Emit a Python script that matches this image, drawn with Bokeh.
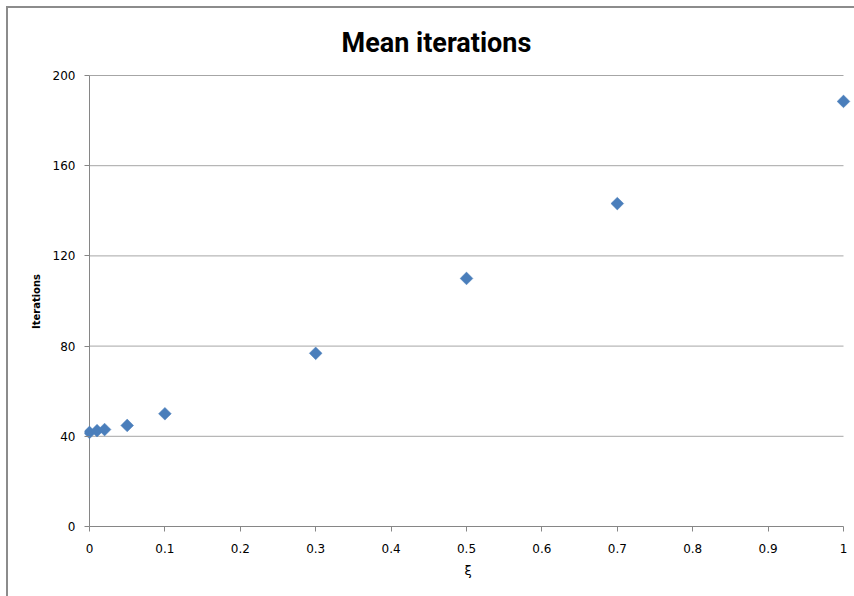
import math
from bokeh.plotting import figure
from bokeh.layouts import column
from bokeh.models import Range1d, FixedTicker, ColumnDataSource
from bokeh.embed import file_html
from bokeh.resources import INLINE

# ---- data ----
xi = [0.0, 0.01, 0.02, 0.05, 0.1, 0.3, 0.5, 0.7, 1.0]
iterations = [41.7, 42.5, 43.0, 44.8, 50.0, 76.8, 110.0, 143.2, 188.5]
x_ticks = [0, 0.1, 0.2, 0.3, 0.4, 0.5, 0.6, 0.7, 0.8, 0.9, 1.0]
x_tick_labels = ["0", "0.1", "0.2", "0.3", "0.4", "0.5", "0.6", "0.7", "0.8", "0.9", "1"]
y_ticks = [0, 40, 80, 120, 160, 200]
y_tick_labels = ["0", "40", "80", "120", "160", "200"]
title_text = "Mean iterations"
x_label = "ξ"
y_label = "Iterations"

# ---- geometry (page pixels) ----
W, H = 854, 596
OFF = 8                          # figure origin inside the chart border
FW, FH = W - OFF, H - OFF
ax_left, ax_right = 89, 843      # pixel of x=0 and x=1
ax_bottom, ax_top = 526, 75      # pixel of y=0 and y=200
fr_left, fr_right = 84, 851
fr_top, fr_bottom = 74, 528

xs = (x_ticks[-1] - x_ticks[0]) / (ax_right - ax_left)
ys = (y_ticks[-1] - y_ticks[0]) / (ax_bottom - ax_top)
x0 = x_ticks[0] - (ax_left - fr_left) * xs
x1 = x_ticks[-1] + (fr_right - ax_right) * xs
y0 = y_ticks[0] - (fr_bottom - ax_bottom) * ys
y1 = y_ticks[-1] + (ax_top - fr_top) * ys

p = figure(width=FW, height=FH, output_backend="svg", toolbar_location=None,
           x_range=Range1d(x0, x1), y_range=Range1d(y0, y1),
           min_border_left=fr_left - OFF, min_border_right=W - fr_right,
           min_border_top=fr_top - OFF, min_border_bottom=H - fr_bottom,
           background_fill_color="white", border_fill_color="white")
p.outline_line_color = None
p.xgrid.visible = False
p.ygrid.visible = False

# title
title_w = 188
p.title.text = title_text
p.title.align = "left"
p.title.offset = 435 - title_w / 2 - fr_left
p.title.vertical_align = "top"
p.title.text_font = "Roboto"
p.title.text_font_style = "bold"
p.title.text_font_size = "27px"
p.title.text_color = "#000000"
p.title.standoff = 28

axis_col = "#868686"
grid_col = "#a6a6a6"
tick_font = "DejaVu Sans"

# x axis
xa = p.xaxis[0]
xa.ticker = FixedTicker(ticks=x_ticks)
xa.major_label_overrides = {t: l for t, l in zip(x_ticks, x_tick_labels)}
xa.axis_line_color = None
xa.major_tick_line_color = axis_col
xa.major_tick_in = fr_bottom - ax_bottom
xa.major_tick_out = 3
xa.minor_tick_line_color = None
xa.major_label_text_font = tick_font
xa.major_label_text_font_size = "12px"
xa.major_label_text_color = "#000000"
xa.major_label_standoff = 12
xa.axis_label = x_label
xa.axis_label_text_font = tick_font
xa.axis_label_text_font_style = "normal"
xa.axis_label_text_font_size = "13px"
xa.axis_label_text_color = "#000000"
xa.axis_label_standoff = 7

# y axis
ya = p.yaxis[0]
ya.ticker = FixedTicker(ticks=y_ticks)
ya.major_label_overrides = {t: l for t, l in zip(y_ticks, y_tick_labels)}
ya.axis_line_color = None
ya.major_tick_line_color = axis_col
ya.major_tick_in = ax_left - fr_left
ya.major_tick_out = 0
ya.minor_tick_line_color = None
ya.major_label_text_font = tick_font
ya.major_label_text_font_size = "12px"
ya.major_label_text_color = "#000000"
ya.major_label_standoff = 9
ya.axis_label = y_label
ya.axis_label_text_font = "DejaVu Sans"
ya.axis_label_text_font_style = "bold"
ya.axis_label_text_font_size = "10px"
ya.axis_label_text_color = "#000000"
ya.axis_label_standoff = 8

# gridlines (horizontal, from x=0 to x=1)
gy = y_ticks[1:]
p.segment(x0=[x_ticks[0]] * len(gy), x1=[x_ticks[-1]] * len(gy), y0=gy, y1=gy,
          line_color=grid_col, line_width=1)
# axis lines
p.segment(x0=[x_ticks[0], x_ticks[0]], x1=[x_ticks[-1], x_ticks[0]],
          y0=[y_ticks[0], y_ticks[0]], y1=[y_ticks[0], y_ticks[-1]],
          line_color=axis_col, line_width=1)

# data (diamonds)
src = ColumnDataSource(dict(x=xi, y=iterations))
p.scatter("x", "y", source=src, marker="square", angle=math.pi / 4, size=9,
          fill_color="#4a7ebb", line_color="#4a7ebb", line_width=0.5)

layout = column(p, styles={"margin-left": "6px", "margin-top": "6px",
                           "border-left": "2px solid #8c8c8c",
                           "border-top": "2px solid #8c8c8c"})

open("out.html", "w").write(file_html(layout, INLINE))
